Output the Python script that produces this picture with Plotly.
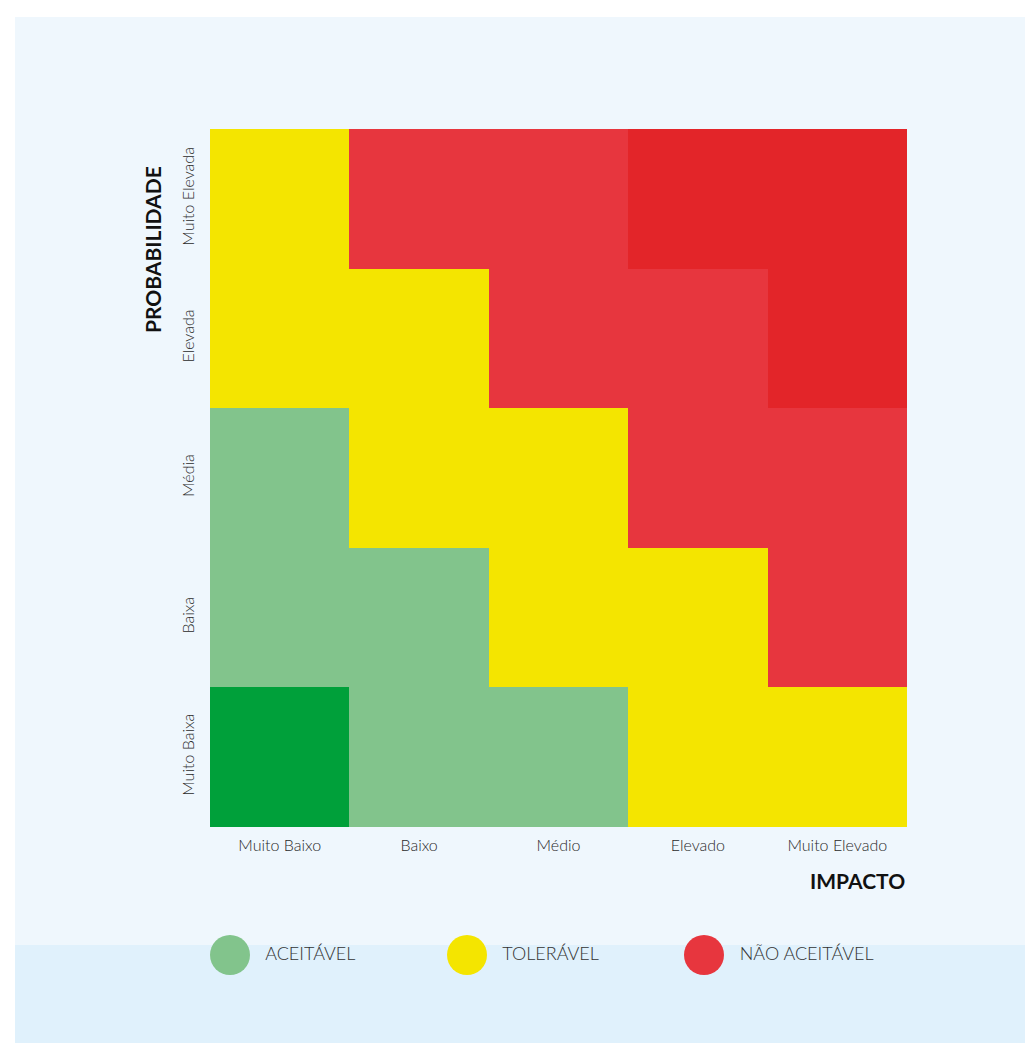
import plotly.graph_objects as go

impacto = ["Muito Baixo", "Baixo", "Médio", "Elevado", "Muito Elevado"]
probabilidade = ["Muito Baixa", "Baixa", "Média", "Elevada", "Muito Elevada"]
# risk level per cell (rows bottom->top: Muito Baixa .. Muito Elevada)
# 0 = aceitável (forte), 1 = aceitável, 2 = tolerável, 3 = não aceitável, 4 = não aceitável (forte)
nivel = [
    [0, 1, 1, 2, 2],
    [1, 1, 2, 2, 3],
    [1, 2, 2, 3, 3],
    [2, 2, 3, 3, 4],
    [2, 3, 3, 4, 4],
]
level_colors = ["#00A03A", "#82C48C", "#F4E500", "#E7363E", "#E32529"]
legend_labels = ["ACEITÁVEL", "TOLERÁVEL", "NÃO ACEITÁVEL"]
legend_colors = ["#82C48C", "#F4E500", "#E7363E"]

W, H = 1025, 1043
cs = []
n = len(level_colors)
for i, c in enumerate(level_colors):
    cs.append([i / n, c])
    cs.append([(i + 1) / n, c])

fig = go.Figure()
fig.add_trace(go.Heatmap(
    z=nivel, x=impacto, y=probabilidade,
    colorscale=cs, zmin=-0.5, zmax=4.5, showscale=False,
    hoverinfo="x+y",
))

# legend as scatter on secondary axis
fig.add_trace(go.Scatter(
    x=[0, 1, 2], y=[0, 0, 0], xaxis="x2", yaxis="y2",
    mode="markers+text", marker=dict(size=40, color=legend_colors),
    text=["\u00a0\u00a0" + t for t in legend_labels], textposition="middle right",
    textfont=dict(family="Lato", size=18, color="#333333", weight=300),
    hoverinfo="skip", showlegend=False, cliponaxis=False,
))

def px(x):
    return x / W

def py(y):
    return 1 - y / H

tickfont = dict(family="Lato", size=16, color="#2a2a2a", weight=300)

fig.update_layout(
    width=W, height=H,
    margin=dict(l=0, r=0, t=0, b=0),
    paper_bgcolor="white", plot_bgcolor="rgba(0,0,0,0)",
    showlegend=False,
    xaxis=dict(domain=[px(210), px(907)], showgrid=False, zeroline=False,
               ticks="", tickfont=tickfont,
               ticklabelstandoff=7, fixedrange=True),
    yaxis=dict(domain=[py(827), py(129)], showgrid=False, zeroline=False,
               ticks="", tickangle=-90, tickfont=tickfont,
               ticklabelstandoff=12, fixedrange=True),
    xaxis2=dict(domain=[px(230 - 237 * 0.5), px(704 + 237 * 0.5)], range=[-0.5, 2.5],
                visible=False, anchor="y2", fixedrange=True),
    yaxis2=dict(domain=[py(995), py(915)], range=[-1, 1], visible=False,
                anchor="x2", fixedrange=True),
    shapes=[
        dict(type="rect", xref="paper", yref="paper", x0=px(15), x1=1, y0=py(945), y1=py(17),
             fillcolor="#EFF7FD", line=dict(width=0), layer="below"),
        dict(type="rect", xref="paper", yref="paper", x0=px(15), x1=1, y0=0, y1=py(945),
             fillcolor="#E0F1FC", line=dict(width=0), layer="below"),
    ],
    annotations=[
        dict(text="<b>PROBABILIDADE</b>", xref="paper", yref="paper", x=px(152), y=py(250),
             textangle=-90, showarrow=False, font=dict(family="Lato", size=21, color="#111"),
             xanchor="center", yanchor="middle"),
        dict(text="<b>IMPACTO</b>", xref="paper", yref="paper", x=px(907), y=py(880),
             showarrow=False, font=dict(family="Lato", size=21, color="#111"),
             xanchor="right", yanchor="middle"),
    ],
)

fig.write_html(
    "out.html",
    config={"displayModeBar": False},
    post_script="document.body.style.margin='0';document.body.style.overflow='hidden';",
)
